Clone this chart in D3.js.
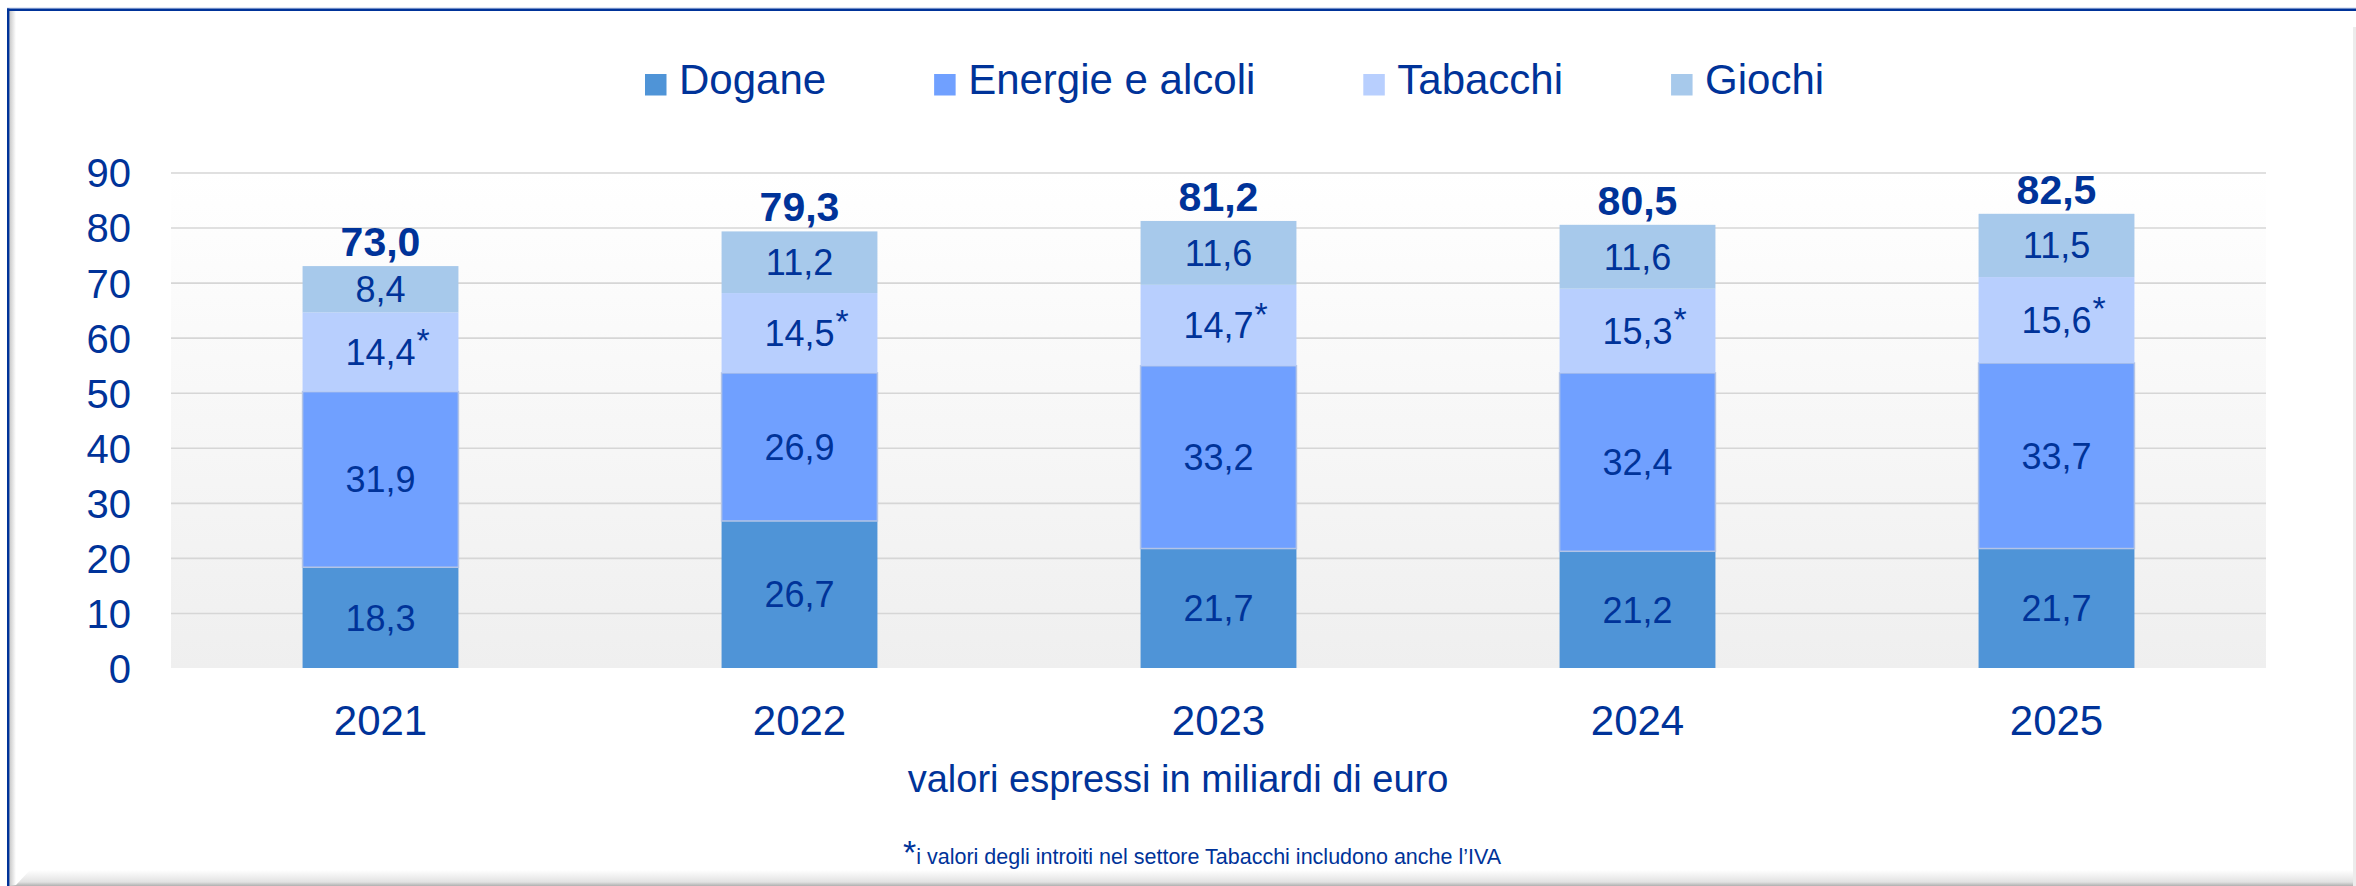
<!DOCTYPE html>
<html>
<head>
<meta charset="utf-8">
<script src="https://cdn.jsdelivr.net/npm/d3@7/dist/d3.min.js"></script>
<style>
  html, body { margin: 0; padding: 0; background: #ffffff; }
  svg { display: block; }
  text { font-family: "Liberation Sans", Arial, sans-serif; }
</style>
</head>
<body>
<script>
// ---------- DATA ----------
const years    = ["2021", "2022", "2023", "2024", "2025"];
const seriesNames = ["Dogane", "Energie e alcoli", "Tabacchi", "Giochi"];
const dogane   = [18.3, 26.7, 21.7, 21.2, 21.7];
const energie  = [31.9, 26.9, 33.2, 32.4, 33.7];
const tabacchi = [14.4, 14.5, 14.7, 15.3, 15.6];
const giochi   = [8.4, 11.2, 11.6, 11.6, 11.5];
const yTicks   = [0, 10, 20, 30, 40, 50, 60, 70, 80, 90];
const axisTitle = "valori espressi in miliardi di euro";
const footnote  = "i valori degli introiti nel settore Tabacchi includono anche l\u2019IVA";

// ---------- STYLE ----------
const W = 2356, H = 886;
const colors = ["#4f94d7", "#70a0ff", "#b8cffe", "#a7c9eb"];
const textColor = "#003399";
const font = '"Liberation Sans", Arial, sans-serif';

const svg = d3.select("body").append("svg").attr("width", W).attr("height", H);
const defs = svg.append("defs");

// plot background gradient
const g1 = defs.append("linearGradient").attr("id", "plotbg").attr("x1", 0).attr("y1", 0).attr("x2", 0).attr("y2", 1);
g1.append("stop").attr("offset", "0%").attr("stop-color", "#ffffff");
g1.append("stop").attr("offset", "100%").attr("stop-color", "#efefef");
// left shadow
const g2 = defs.append("linearGradient").attr("id", "lshadow").attr("x1", 0).attr("y1", 0).attr("x2", 1).attr("y2", 0);
g2.append("stop").attr("offset", "0%").attr("stop-color", "#c4c4c4");
g2.append("stop").attr("offset", "100%").attr("stop-color", "#ffffff");
// bottom shadow
const g3 = defs.append("linearGradient").attr("id", "bshadow").attr("x1", 0).attr("y1", 0).attr("x2", 0).attr("y2", 1);
g3.append("stop").attr("offset", "0%").attr("stop-color", "#ffffff");
g3.append("stop").attr("offset", "75%").attr("stop-color", "#e2e2e2");
g3.append("stop").attr("offset", "100%").attr("stop-color", "#b0b0b0");

// ---------- FRAME ----------
svg.append("rect").attr("x", 0).attr("y", 0).attr("width", W).attr("height", H).attr("fill", "#ffffff");
svg.append("rect").attr("x", 9).attr("y", 11).attr("width", 7).attr("height", H - 11).attr("fill", "url(#lshadow)");
svg.append("path")
  .attr("d", `M16,${H - 1} L30,870 L${W},870 L${W},${H} L9,${H} Z`)
  .attr("fill", "url(#bshadow)");
svg.append("rect").attr("x", W - 3).attr("y", 27).attr("width", 3).attr("height", H - 27).attr("fill", "#ececec");
svg.append("rect").attr("x", 7).attr("y", 7.5).attr("width", W - 7).attr("height", 1).attr("fill", "#c9d5ec");
svg.append("rect").attr("x", 7).attr("y", 8.5).attr("width", W - 7).attr("height", 2.5).attr("fill", "#003399");
svg.append("rect").attr("x", 7).attr("y", 8.5).attr("width", 2.4).attr("height", H - 8.5).attr("fill", "#003399");

// ---------- SCALES ----------
const plotL = 171, plotR = 2266, plotT = 172.5, plotB = 668;
const x = d3.scaleBand().domain(years).range([plotL, plotR]).paddingInner(0.628).paddingOuter(0.314);
const y = d3.scaleLinear().domain([0, 90]).range([plotB, plotT]);

// plot background
svg.append("rect").attr("x", plotL).attr("y", plotT).attr("width", plotR - plotL).attr("height", plotB - plotT)
  .attr("fill", "url(#plotbg)");

// y axis with gridlines
const yAxis = svg.append("g").attr("transform", `translate(${plotL},0)`)
  .call(d3.axisLeft(y).tickValues(yTicks).tickSize(-(plotR - plotL)).tickPadding(40).tickFormat(d3.format("d")));
yAxis.select(".domain").remove();
yAxis.selectAll(".tick line").attr("stroke", "#d6d6d6").attr("stroke-width", 1.6)
  .filter(d => d === 0).remove();
yAxis.selectAll(".tick text").attr("fill", textColor).attr("font-size", 40).attr("font-family", font)
  .attr("dy", "0.36em");

// x axis
const xAxis = svg.append("g").attr("transform", `translate(0,${plotB})`)
  .call(d3.axisBottom(x).tickSize(0).tickPadding(37));
xAxis.select(".domain").remove();
xAxis.selectAll(".tick text").attr("fill", textColor).attr("font-size", 42).attr("font-family", font);

// ---------- STACK ----------
const rows = years.map((yr, i) => ({ year: yr, Dogane: dogane[i], "Energie e alcoli": energie[i], Tabacchi: tabacchi[i], Giochi: giochi[i] }));
const stack = d3.stack().keys(seriesNames)(rows);
const fmt = v => d3.format(".1f")(v).replace(".", ",");

const layers = svg.append("g").selectAll("g").data(stack).join("g")
  .attr("fill", (d, i) => colors[i]);
layers.selectAll("rect").data(d => d).join("rect")
  .attr("x", d => x(d.data.year))
  .attr("width", x.bandwidth())
  .attr("y", d => y(d[1]))
  .attr("height", d => y(d[0]) - y(d[1]));
// Energie stroke
layers.filter(d => d.key === "Energie e alcoli").selectAll("rect")
  .attr("stroke", "#b3c4e6").attr("stroke-width", 1.5);

// segment labels
const labelG = svg.append("g");
stack.forEach(layer => {
  layer.forEach(d => {
    const cx = x(d.data.year) + x.bandwidth() / 2;
    const cy = (y(d[0]) + y(d[1])) / 2;
    const t = labelG.append("text")
      .attr("x", cx).attr("y", cy).attr("dy", "0.36em")
      .attr("text-anchor", "middle").attr("fill", textColor)
      .attr("font-size", 36).attr("font-family", font)
      .text(fmt(d[1] - d[0]));
    if (layer.key === "Tabacchi") {
      const w = t.node().getComputedTextLength();
      labelG.append("text")
        .attr("x", cx + w / 2 + 1).attr("y", cy).attr("dy", "0.36em")
        .attr("transform", "translate(0,-12)")
        .attr("fill", textColor).attr("font-size", 34).attr("font-family", font)
        .text("*");
    }
  });
});

// totals
svg.append("g").selectAll("text").data(rows).join("text")
  .attr("x", d => x(d.year) + x.bandwidth() / 2)
  .attr("y", d => y(d3.sum(seriesNames, k => d[k])) - 10)
  .attr("text-anchor", "middle").attr("fill", textColor)
  .attr("font-size", 41).attr("font-weight", "bold").attr("font-family", font)
  .text(d => fmt(d3.sum(seriesNames, k => d[k])));

// ---------- LEGEND ----------
const legend = svg.append("g");
let lx = 645;
seriesNames.forEach((name, i) => {
  legend.append("rect").attr("x", lx).attr("y", 74).attr("width", 21.5).attr("height", 21.5).attr("fill", colors[i]);
  const t = legend.append("text").attr("x", lx + 34).attr("y", 93.5)
    .attr("fill", textColor).attr("font-size", 42).attr("font-family", font).text(name);
  lx = lx + 34 + t.node().getComputedTextLength() + 108;
});

// ---------- TITLES ----------
svg.append("text").attr("x", W / 2).attr("y", 791.5).attr("text-anchor", "middle")
  .attr("fill", textColor).attr("font-size", 38).attr("font-family", font).text(axisTitle);

const fn = svg.append("text").attr("x", 903).attr("y", 864).attr("fill", textColor).attr("font-family", font);
fn.append("tspan").attr("font-size", 34).text("*");
fn.append("tspan").attr("font-size", 21.5).text(footnote);
</script>
</body>
</html>
